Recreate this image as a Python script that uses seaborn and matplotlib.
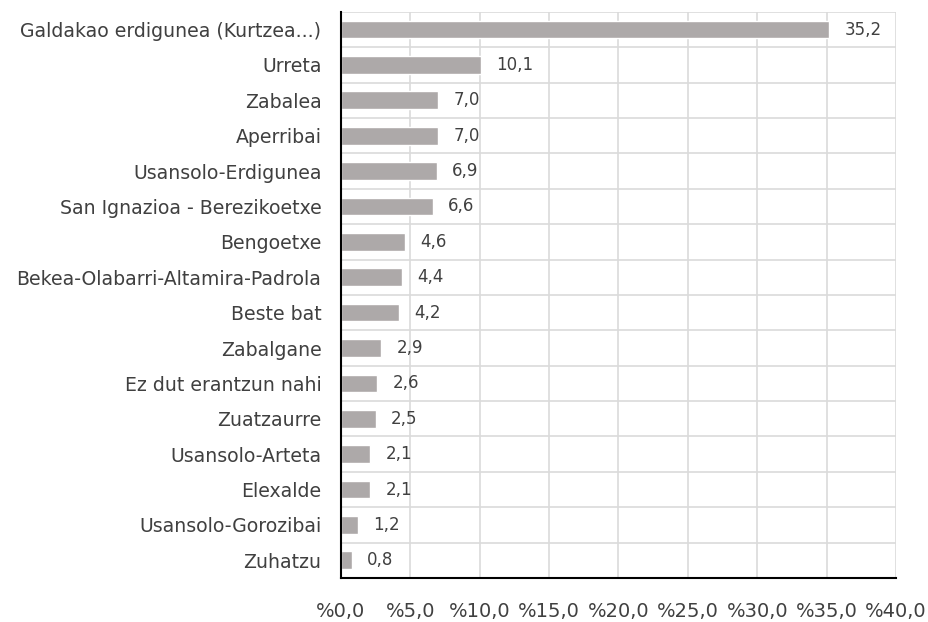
import matplotlib
matplotlib.use("Agg")
import matplotlib.pyplot as plt
import seaborn as sns
import pandas as pd
import numpy as np

categories = [
    "Galdakao erdigunea (Kurtzea...)", "Urreta", "Zabalea", "Aperribai",
    "Usansolo-Erdigunea", "San Ignazioa - Berezikoetxe", "Bengoetxe",
    "Bekea-Olabarri-Altamira-Padrola", "Beste bat", "Zabalgane",
    "Ez dut erantzun nahi", "Zuatzaurre", "Usansolo-Arteta", "Elexalde",
    "Usansolo-Gorozibai", "Zuhatzu",
]
values = [35.2, 10.1, 7.0, 7.0, 6.9, 6.6, 4.6, 4.4, 4.2, 2.9, 2.6, 2.5, 2.1, 2.1, 1.2, 0.8]
xticks = [0, 5, 10, 15, 20, 25, 30, 35, 40]

df = pd.DataFrame({"cat": categories, "val": values})

sns.set_style("white")
plt.rcParams["font.family"] = ["DejaVu Sans"]

fig = plt.figure(figsize=(9.29, 6.22), dpi=100)
ax = fig.add_axes([0.367, 0.0707, 0.5975, 0.9103])

sns.barplot(data=df, x="val", y="cat", color="#ADA9A9", width=0.5,
            saturation=1, ax=ax, zorder=3)

for i, v in enumerate(values):
    ax.annotate(f"{v:.1f}".replace(".", ","), (v, i), xytext=(11, 0),
                textcoords="offset points", va="center", ha="left",
                fontsize=12, color="#404040")

ax.set_xlim(0, 40)
ax.set_ylim(len(categories) - 0.5, -0.5)
ax.set_xticks(xticks)
ax.set_xticklabels([f"%{t:.1f}".replace(".", ",") for t in xticks])
ax.set_yticks(np.arange(-0.5, len(categories), 1), minor=True)
ax.tick_params(axis="y", which="major", length=0, labelsize=13.6, labelcolor="#404040", pad=14)
ax.tick_params(axis="y", which="minor", length=4, width=1.5, color="black", direction="out")
ax.tick_params(axis="x", length=3, width=1.5, color="black", direction="in",
               labelsize=14, labelcolor="#404040", pad=17)
ax.xaxis.grid(True, color="#DADADA", linewidth=1.2, zorder=0)
ax.yaxis.grid(True, which="minor", color="#DADADA", linewidth=1.2, zorder=0)
ax.set_axisbelow(True)
ax.set_xlabel("")
ax.set_ylabel("")
for s in ["top", "right"]:
    ax.spines[s].set_visible(False)
for s in ["left", "bottom"]:
    ax.spines[s].set_color("black")
    ax.spines[s].set_linewidth(1.5)
    ax.spines[s].set_zorder(5)

fig.savefig("out.png", dpi=100)
